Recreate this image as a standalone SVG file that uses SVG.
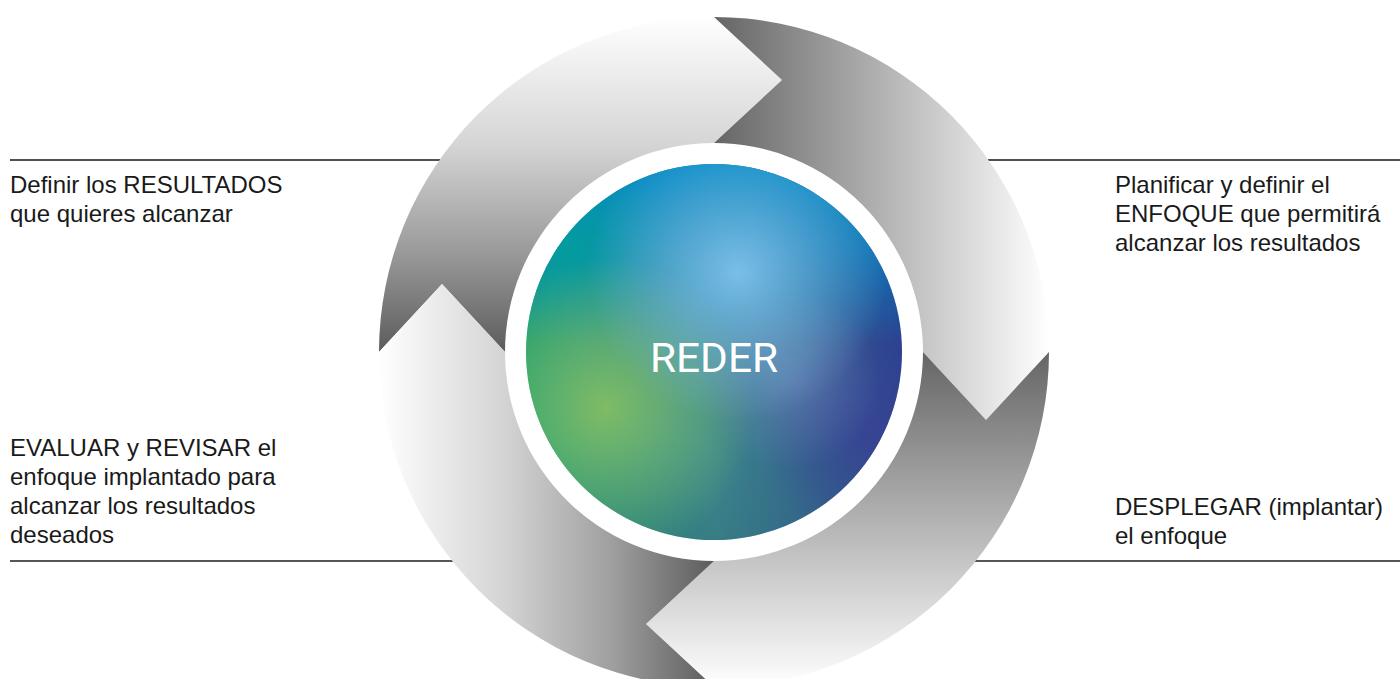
<svg xmlns="http://www.w3.org/2000/svg" width="1400" height="679" viewBox="0 0 1400 679">
  <style>
    .lbl { font-family: "Liberation Sans", Arial, sans-serif; font-size: 24px; fill: #1a1a1a; }
    .ctr { font-family: Roboto, "Liberation Sans", sans-serif; font-size: 40px; fill: #ffffff; }
    .rule-top { stroke: #505050; stroke-width: 2; }
    .rule-bot { stroke: #1e1e1e; stroke-width: 1.5; }
  </style>
  <defs>
    <linearGradient id="gTL" gradientUnits="userSpaceOnUse" x1="0" y1="17" x2="0" y2="352">
      <stop offset="0" stop-color="#ffffff"/>
      <stop offset="0.38" stop-color="#d5d5d5"/>
      <stop offset="0.7" stop-color="#9a9a9a"/>
      <stop offset="1" stop-color="#5c5c5c"/>
    </linearGradient>
    <linearGradient id="gTR" gradientUnits="userSpaceOnUse" x1="714" y1="0" x2="1049" y2="0">
      <stop offset="0" stop-color="#656565"/>
      <stop offset="1" stop-color="#ffffff"/>
    </linearGradient>
    <linearGradient id="gBR" gradientUnits="userSpaceOnUse" x1="0" y1="352" x2="0" y2="687">
      <stop offset="0" stop-color="#656565"/>
      <stop offset="1" stop-color="#ffffff"/>
    </linearGradient>
    <linearGradient id="gBL" gradientUnits="userSpaceOnUse" x1="379" y1="0" x2="714" y2="0">
      <stop offset="0" stop-color="#ffffff"/>
      <stop offset="0.38" stop-color="#d3d3d3"/>
      <stop offset="0.7" stop-color="#9e9e9e"/>
      <stop offset="1" stop-color="#5c5c5c"/>
    </linearGradient>
    <linearGradient id="cBase" gradientUnits="userSpaceOnUse" x1="526" y1="380" x2="902" y2="330">
      <stop offset="0" stop-color="#1a9e68"/>
      <stop offset="0.45" stop-color="#3c8a8c"/>
      <stop offset="1" stop-color="#2c3f90"/>
    </linearGradient>
    <linearGradient id="cTop" gradientUnits="userSpaceOnUse" x1="0" y1="164" x2="0" y2="345">
      <stop offset="0" stop-color="#008ac6" stop-opacity="1"/>
      <stop offset="0.45" stop-color="#008ac6" stop-opacity="0.7"/>
      <stop offset="1" stop-color="#008ac6" stop-opacity="0"/>
    </linearGradient>
    <linearGradient id="cBot" gradientUnits="userSpaceOnUse" x1="0" y1="440" x2="0" y2="540">
      <stop offset="0" stop-color="#2e5c78" stop-opacity="0"/>
      <stop offset="1" stop-color="#2e5c78" stop-opacity="0.3"/>
    </linearGradient>
    <radialGradient id="cTeal" gradientUnits="userSpaceOnUse" cx="565" cy="245" r="100">
      <stop offset="0" stop-color="#00a09a" stop-opacity="0.75"/>
      <stop offset="1" stop-color="#00a09a" stop-opacity="0"/>
    </radialGradient>
    <radialGradient id="cBlue" gradientUnits="userSpaceOnUse" cx="738" cy="272" r="150">
      <stop offset="0" stop-color="#7ec2ec" stop-opacity="0.95"/>
      <stop offset="0.45" stop-color="#7cbae2" stop-opacity="0.55"/>
      <stop offset="1" stop-color="#7cb8e0" stop-opacity="0"/>
    </radialGradient>
    <radialGradient id="cGreen" gradientUnits="userSpaceOnUse" cx="606" cy="408" r="150">
      <stop offset="0" stop-color="#88c062" stop-opacity="0.9"/>
      <stop offset="0.5" stop-color="#88c070" stop-opacity="0.45"/>
      <stop offset="1" stop-color="#88c070" stop-opacity="0"/>
    </radialGradient>
    <radialGradient id="cLav" gradientUnits="userSpaceOnUse" cx="790" cy="380" r="90">
      <stop offset="0" stop-color="#7a8cc4" stop-opacity="0.5"/>
      <stop offset="1" stop-color="#7a8cc4" stop-opacity="0"/>
    </radialGradient>
    <radialGradient id="cIndigo" gradientUnits="userSpaceOnUse" cx="870" cy="435" r="110">
      <stop offset="0" stop-color="#3a3f94" stop-opacity="0.7"/>
      <stop offset="1" stop-color="#3a3f94" stop-opacity="0"/>
    </radialGradient>
  </defs>

  <g id="connectors">
    <line class="rule-top" x1="10" y1="160" x2="440" y2="160"/>
    <line class="rule-top" x1="988" y1="160" x2="1400" y2="160"/>
    <line class="rule-bot" x1="10" y1="561" x2="453" y2="561"/>
    <line class="rule-bot" x1="975" y1="561" x2="1400" y2="561"/>
  </g>

  <g id="cycle">
    <path id="arrow-tl" fill="url(#gTL)" d="M379,352 L442,284 L505,352 A209,209 0 0 1 714,143 L782,80 L714,17 A335,335 0 0 0 379,352 Z"/>
    <path id="arrow-tr" fill="url(#gTR)" d="M714,17 L782,80 L714,143 A209,209 0 0 1 923,352 L986,420 L1049,352 A335,335 0 0 0 714,17 Z"/>
    <path id="arrow-br" fill="url(#gBR)" d="M1049,352 L986,420 L923,352 A209,209 0 0 1 714,561 L646,624 L714,687 A335,335 0 0 0 1049,352 Z"/>
    <path id="arrow-bl" fill="url(#gBL)" d="M714,687 L646,624 L714,561 A209,209 0 0 1 505,352 L442,284 L379,352 A335,335 0 0 0 714,687 Z"/>
  </g>

  <g id="center-node">
    <circle cx="714" cy="352" r="188" fill="url(#cBase)"/>
    <circle cx="714" cy="352" r="188" fill="url(#cTop)"/>
    <circle cx="714" cy="352" r="188" fill="url(#cTeal)"/>
    <circle cx="714" cy="352" r="188" fill="url(#cBot)"/>
    <circle cx="714" cy="352" r="188" fill="url(#cIndigo)"/>
    <circle cx="714" cy="352" r="188" fill="url(#cLav)"/>
    <circle cx="714" cy="352" r="188" fill="url(#cGreen)"/>
    <circle cx="714" cy="352" r="188" fill="url(#cBlue)"/>
    <text class="ctr" x="714" y="372" text-anchor="middle" textLength="128" lengthAdjust="spacingAndGlyphs">REDER</text>
  </g>

  <g id="label-resultados">
    <text class="lbl" x="10" y="193">Definir los RESULTADOS</text>
    <text class="lbl" x="10" y="222">que quieres alcanzar</text>
  </g>
  <g id="label-enfoque">
    <text class="lbl" x="1115" y="193">Planificar y definir el</text>
    <text class="lbl" x="1115" y="222">ENFOQUE que permitirá</text>
    <text class="lbl" x="1115" y="251">alcanzar los resultados</text>
  </g>
  <g id="label-evaluar">
    <text class="lbl" x="10" y="456">EVALUAR y REVISAR el</text>
    <text class="lbl" x="10" y="485">enfoque implantado para</text>
    <text class="lbl" x="10" y="514">alcanzar los resultados</text>
    <text class="lbl" x="10" y="543">deseados</text>
  </g>
  <g id="label-desplegar">
    <text class="lbl" x="1115" y="515">DESPLEGAR (implantar)</text>
    <text class="lbl" x="1115" y="544">el enfoque</text>
  </g>
</svg>
